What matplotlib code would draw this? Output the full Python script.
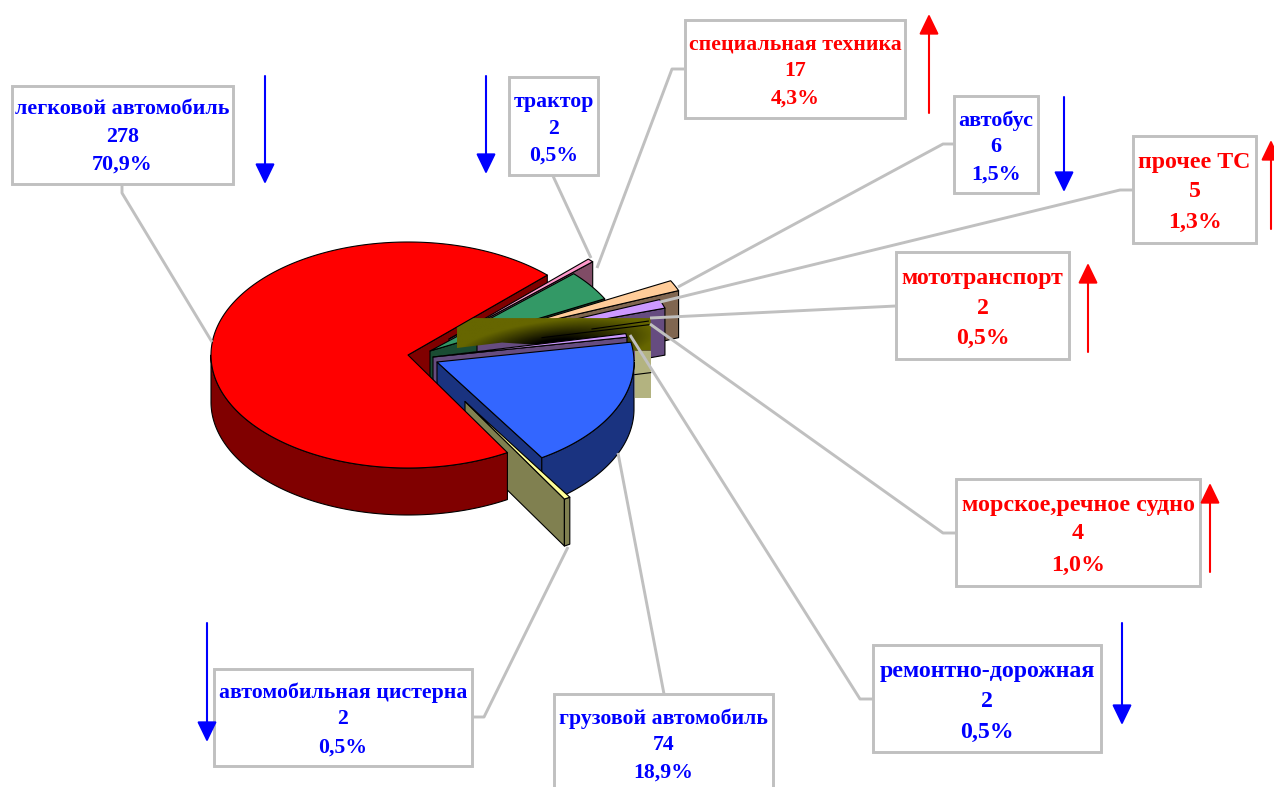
import numpy as np
import matplotlib
matplotlib.use("Agg")
import matplotlib.pyplot as plt
from matplotlib.patches import Polygon, Rectangle
from matplotlib.colors import LinearSegmentedColormap

# ---------- data, in pie order, counter-clockwise from the start angle ----------
categories = ["легковой автомобиль", "автомобильная цистерна", "грузовой автомобиль",
              "ремонтно-дорожная", "мототранспорт", "морское,речное судно",
              "прочее ТС", "автобус", "специальная техника", "трактор"]
counts = [278, 2, 74, 2, 2, 4, 5, 6, 17, 2]
percent_labels = ["70,9%", "0,5%", "18,9%", "0,5%", "0,5%", "1,0%", "1,3%", "1,5%", "4,3%", "0,5%"]
trend = ["down", "down", "down", "down", "up", "up", "up", "down", "up", "down"]

# ---------- layout and style ----------
W, H = 1274, 787
START = 45.0
RX, RY, DEPTH = 197.0, 113.0, 47.0
EDGE = "black"
TEXT_SHIFT = 1.5
TIPS = [(408, 355), (465, 401.5), (437, 362), (433, 357), (457, 348), (457, 348),
        (477, 342), (496, 333), (430, 351), (449, 339)]
TOPS = ["#FF0000", "#FFFF99", "#3366FF", "#CC99FF", "#666600", "#666600",
        "#CC99FF", "#FFCC99", "#339966", "#FF99CC"]
SIDES = ["#800000", "#808050", "#1A3380", "#664C80", "#666600", "#666600",
         "#664C80", "#806650", "#1A4C33", "#804C66"]
BOXES = [(12, 86, 233, 184), (214, 669, 472, 766), (554, 694, 773, 820),
         (873, 645, 1101, 752), (896, 252, 1069, 359), (956, 479, 1200, 586),
         (1133, 136, 1256, 243), (954, 96, 1038, 193), (685, 20, 905, 118),
         (509, 77, 598, 175)]
LINE_Y = [(107, 136, 163), (691, 718, 746), (717, 744, 771), (670, 700, 731),
          (277, 307, 337), (504, 532, 564), (161, 190, 221), (119, 145, 173),
          (43, 70, 97), (100, 127, 154)]
FONT = [15.8, 15.7, 15.7, 17.2, 17.2, 17.3, 17.2, 15.9, 15.7, 15.7]
LEADERS = [[(122, 184), (122, 193), (212, 342)], [(472, 717), (484, 717), (568, 547)],
           [(664, 694), (618, 453)], [(873, 699), (860, 699), (630, 335)],
           [(896, 306), (650, 318)], [(956, 533), (943, 533), (650, 324)],
           [(1133, 190), (1120, 190), (660, 302)], [(954, 144), (943, 144), (678, 287)],
           [(684, 69), (672, 69), (597, 268)], [(553, 176), (591, 258)]]
ARROWS = [(265, 76, 184), (207, 623, 742), (812, 696, 790), (1122, 623, 725),
          (1088, 352, 263), (1210, 572, 483), (1271, 229, 140), (1064, 97, 192),
          (929, 113, 14), (486, 76, 174)]

# ---------- angles from values ----------
spans = 360.0 * np.array(counts) / sum(counts)
starts = START + np.concatenate(([0.0], np.cumsum(spans)[:-1]))
ends = starts + spans


def pt(tip, a, dz=0.0):
    r = np.radians(a)
    return tip[0] + RX * np.cos(r), tip[1] - RY * np.sin(r) + dz


def arc(tip, a0, a1, dz=0.0):
    n = max(int(abs(a1 - a0) * 2), 2)
    return [pt(tip, a, dz) for a in np.linspace(a0, a1, n)]


fig = plt.figure(figsize=(W / 100, H / 100), dpi=100)
ax = fig.add_axes([0, 0, 1, 1])
ax.axis("off")
z = [10]


def poly(points, face, edge=EDGE, lw=0.8):
    p = Polygon(points, closed=True, facecolor=face, edgecolor=edge, linewidth=lw,
                zorder=z[0], joinstyle="round")
    ax.add_patch(p)
    z[0] += 1
    return p


def radial_wall(i):
    t = TIPS[i]
    e = pt(t, starts[i])
    poly([t, e, (e[0], e[1] + DEPTH), (t[0], t[1] + DEPTH)], SIDES[i])


def rim_wall(i):
    t = TIPS[i]
    lo, hi = starts[i], ends[i]
    for k in (0, 360):
        a0, a1 = max(lo, 180 + k), min(hi, 360 + k)
        if a1 > a0:
            poly(arc(t, a0, a1) + arc(t, a1, a0, DEPTH), SIDES[i])


def top(i):
    t = TIPS[i]
    poly([t] + arc(t, starts[i], ends[i]), TOPS[i])


def wedge(i):
    radial_wall(i)
    rim_wall(i)
    top(i)


def olive(i_low, i_up):
    t = TIPS[i_low]
    lo = pt(t, starts[i_low])
    up = pt(t, ends[i_low])
    x0, x1, y0, y1 = t[0], lo[0] + 1, up[1] - 3, lo[1] + 26
    # pale outer side
    pale = Rectangle((x1 - 16, y1), 16, DEPTH, facecolor="#B3B380", edgecolor="none", zorder=z[0])
    ax.add_patch(pale)
    z[0] += 1
    ax.plot([x1 - 16, x1], [y1 + 24, y1 + 22], color=EDGE, lw=0.8, zorder=z[0])
    z[0] += 1
    # shaded face
    gx, gy = np.meshgrid(np.linspace(x0, x1, 260), np.linspace(y0, y1, 60))
    d = np.sqrt(((gx - 555) / 100) ** 2 + ((gy - 345 + (gx - 555) * 0.11) / 25) ** 2)
    shade = np.clip((d - 0.22) / 0.78, 0, 1)
    cmap = LinearSegmentedColormap.from_list("o", ["#000000", "#666600"])
    im = ax.imshow(shade, extent=(x0, x1, y1, y0), cmap=cmap, vmin=0, vmax=1,
                   aspect="auto", zorder=z[0], interpolation="bilinear")
    mid_x = x0 + 45
    mid_y = t[1] + (lo[1] - t[1]) * 45 / (lo[0] - t[0])
    clip = Polygon([(x0, y0), (x1, y0), (x1, y1), (x1 - 25, y1), (mid_x, mid_y), (x0, t[1])],
                   closed=True, transform=ax.transData)
    im.set_clip_path(clip)
    z[0] += 1
    ax.plot([x0 + 85, lo[0]], [t[1] + (lo[1] - t[1]) * 85 / (lo[0] - t[0]), lo[1]],
            color=EDGE, lw=0.8, zorder=z[0])
    cut = t[0] + 135
    cy = t[1] + (up[1] - t[1]) * 135 / (up[0] - t[0])
    ax.plot([cut, up[0]], [cy, up[1]], color=EDGE, lw=0.8, zorder=z[0])
    z[0] += 1


# back to front
radial_wall(0)
wedge(9)
wedge(8)
wedge(7)
wedge(6)
olive(4, 5)
wedge(3)
wedge(2)
wedge(1)
rim_wall(0)
top(0)

# leaders
for path in LEADERS:
    xs, ys = zip(*path)
    ax.plot(xs, ys, color="#C0C0C0", lw=2.1, zorder=200, solid_capstyle="butt")

# labels
for i, cat in enumerate(categories):
    x0, y0, x1, y1 = BOXES[i]
    ax.add_patch(Rectangle((x0, y0), x1 - x0, y1 - y0, facecolor="white", edgecolor="#C0C0C0",
                           linewidth=2.1, zorder=210))
    color = "#FF0000" if trend[i] == "up" else "#0000FF"
    lines = [cat, str(counts[i]), percent_labels[i]]
    for s, y in zip(lines, LINE_Y[i]):
        ax.text((x0 + x1) / 2, y + TEXT_SHIFT, s, ha="center", va="center", color=color, zorder=220,
                fontsize=FONT[i], fontweight="bold", family="Liberation Serif")
    ax_x, a0, a1 = ARROWS[i]
    ax.annotate("", xy=(ax_x, a1), xytext=(ax_x, a0), zorder=230,
                arrowprops=dict(arrowstyle="-|>,head_length=0.62,head_width=0.3", color=color,
                                lw=1.5, shrinkA=0, shrinkB=0, mutation_scale=20))

ax.set_xlim(0, W)
ax.set_ylim(H, 0)
fig.savefig("out.png", dpi=100, facecolor="white")
